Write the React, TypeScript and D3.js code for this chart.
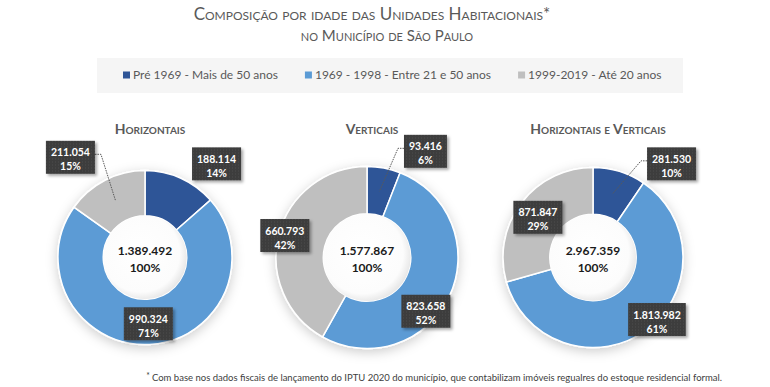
import React, { useRef, useEffect } from "react";
import * as d3 from "d3";

const categories = [
  "Pré 1969 - Mais de 50 anos",
  "1969 - 1998 - Entre 21 e 50 anos",
  "1999-2019 - Até 20 anos",
];
const colors = ["#2f5597", "#5b9bd5", "#bfbfbf"];
const chartTitles = ["Horizontais", "Verticais", "Horizontais e Verticais"];
const horizontais = [188114, 990324, 211054];
const verticais = [93416, 823658, 660793];
const horizontaisVerticais = [281530, 1813982, 871847];
const pctHorizontais = [14, 71, 15];
const pctVerticais = [6, 52, 42];
const pctHorizontaisVerticais = [10, 61, 29];
const title = "Composição por idade das Unidades Habitacionais*";
const subtitle = "no Município de São Paulo";
const footnote =
  "Com base nos dados fiscais de lançamento do IPTU 2020 do município, que contabilizam imóveis regualres do estoque residencial formal.";

// layout only
const donuts = [
  { values: horizontais, pct: pctHorizontais, cx: 145, r: 87, nudge: [[45, -34], [0, 3], [-45, -42]], leader: [false, false, true] },
  { values: verticais, pct: pctVerticais, cx: 367, r: 91, nudge: [[46, -39], [-2, 26], [-17, -4]], leader: [true, false, false] },
  { values: horizontaisVerticais, pct: pctHorizontaisVerticais, cx: 593, r: 90, nudge: [[59, -29], [25, 9], [-2, 1]], leader: [true, false, false] },
];

const ptBR = d3.formatLocale({ decimal: ",", thousands: ".", grouping: [3], currency: ["R$", ""] });
const fmt = ptBR.format(",d");
const FONT = "Lato, 'Open Sans', sans-serif";

const App = () => {
  const ref = useRef<SVGSVGElement>(null);

  useEffect(() => {
    const svg = d3.select(ref.current);
    svg.selectAll("*").remove();

    const defs = svg.append("defs");
    const sh = defs.append("filter").attr("id", "donutShadow").attr("x", "-30%").attr("y", "-30%").attr("width", "160%").attr("height", "160%");
    sh.append("feDropShadow").attr("dx", 0).attr("dy", 3).attr("stdDeviation", 6).attr("flood-color", "#000").attr("flood-opacity", 0.2);
    const bs = defs.append("filter").attr("id", "boxShadow").attr("x", "-20%").attr("y", "-20%").attr("width", "150%").attr("height", "150%");
    bs.append("feDropShadow").attr("dx", 2).attr("dy", 2).attr("stdDeviation", 1.5).attr("flood-color", "#000").attr("flood-opacity", 0.35);
    const hole = defs.append("radialGradient").attr("id", "hole").attr("cx", "45%").attr("cy", "45%").attr("r", "58%");
    hole.append("stop").attr("offset", "0%").attr("stop-color", "#ffffff");
    hole.append("stop").attr("offset", "80%").attr("stop-color", "#fcfcfc");
    hole.append("stop").attr("offset", "100%").attr("stop-color", "#e4e4e4");
    const pat = defs.append("pattern").attr("id", "boxTex").attr("width", 3).attr("height", 3).attr("patternUnits", "userSpaceOnUse");
    pat.append("rect").attr("width", 3).attr("height", 3).attr("fill", "#3d3d3d");
    pat.append("rect").attr("width", 1).attr("height", 1).attr("fill", "#4d4d4d");

    svg.append("rect").attr("width", 770).attr("height", 387).attr("fill", "#fff");

    // titles
    svg.append("text").attr("x", 372).attr("y", 20).attr("text-anchor", "middle")
      .attr("font-family", FONT).attr("font-size", 17).attr("fill", "#595959")
      .style("font-variant", "small-caps").text(title);
    svg.append("text").attr("x", 387).attr("y", 41).attr("text-anchor", "middle")
      .attr("font-family", FONT).attr("font-size", 15).attr("fill", "#595959")
      .style("font-variant", "small-caps").text(subtitle);

    // legend
    svg.append("rect").attr("x", 97).attr("y", 58).attr("width", 586).attr("height", 35).attr("fill", "#f5f5f5");
    const legend = svg.append("g").attr("transform", "translate(123,75)");
    let lx = 0;
    categories.forEach((c, i) => {
      const g = legend.append("g").attr("transform", `translate(${lx},0)`);
      g.append("rect").attr("x", 0).attr("y", -3.5).attr("width", 7).attr("height", 7).attr("fill", colors[i]);
      const t = g.append("text").attr("x", 10).attr("y", 4.2).attr("font-family", FONT).attr("font-size", 12)
        .attr("fill", "#595959").text(c);
      const w = (t.node() as SVGTextElement).getComputedTextLength();
      lx += 10 + w + 27;
    });

    // donuts
    const pie = d3.pie<number>().sort(null).value((d) => d);
    const cy = 257.5;

    donuts.forEach((dn, k) => {
      const g = svg.append("g").attr("transform", `translate(${dn.cx},${cy})`);
      const inner = dn.r * 0.48;
      const arc = d3.arc<d3.PieArcDatum<number>>().innerRadius(inner).outerRadius(dn.r);
      const arcs = pie(dn.values);
      const total = d3.sum(dn.values);

      svg.append("text").attr("x", dn.cx + 5).attr("y", 134).attr("text-anchor", "middle")
        .attr("font-family", FONT).attr("font-weight", 700).attr("font-size", 14).attr("fill", "#595959")
        .style("font-variant", "small-caps").text(chartTitles[k]);

      const ring = g.append("g").attr("filter", "url(#donutShadow)");
      ring.selectAll("path").data(arcs).enter().append("path")
        .attr("d", arc).attr("fill", (d, i) => colors[i])
        .attr("stroke", "#fff").attr("stroke-width", 1.5);

      g.append("circle").attr("r", inner).attr("fill", "url(#hole)");

      const ct = g.append("text").attr("text-anchor", "middle").attr("font-family", FONT)
        .attr("font-weight", 700).attr("font-size", 12).attr("fill", "#1a1a1a");
      ct.append("tspan").attr("x", 0).attr("y", -3).text(fmt(total));
      ct.append("tspan").attr("x", 0).attr("y", 14).text("100%");

      const leaders = g.append("g");
      arcs.forEach((a, i) => {
        const [ax, ay] = arc.centroid(a);
        const bx = ax + dn.nudge[i][0];
        const by = ay + dn.nudge[i][1];
        const lg = g.append("g");
        const box = lg.append("rect").attr("fill", "url(#boxTex)").attr("filter", "url(#boxShadow)");
        const t = lg.append("text").attr("text-anchor", "middle").attr("font-family", FONT)
          .attr("font-weight", 700).attr("font-size", 10.5).attr("fill", "#fff");
        t.append("tspan").attr("x", bx).attr("y", by - 2).text(fmt(dn.values[i]));
        t.append("tspan").attr("x", bx).attr("y", by + 12).text(`${dn.pct[i]}%`);
        const w = d3.max(t.selectAll<SVGTSpanElement, unknown>("tspan").nodes(), (n) => n.getComputedTextLength()) || 40;
        const bw = w + 10;
        const bh = 33;
        box.attr("x", bx - bw / 2).attr("y", by - bh / 2 - 1).attr("width", bw).attr("height", bh);

        if (dn.leader[i]) {
          const side = bx > ax ? -1 : 1;
          const ex = bx + (side * bw) / 2;
          const ey = by - 4;
          leaders.append("path").attr("d", `M${ex},${ey}H${ex + side * 6}L${ax},${ay}`)
            .attr("fill", "none").attr("stroke", "#595959").attr("stroke-width", 1).attr("stroke-dasharray", "1.5,1");
        }
      });
    });

    // footnote
    const fn = svg.append("text").attr("x", 722).attr("y", 381).attr("text-anchor", "end")
      .attr("font-family", FONT).attr("font-size", 9.5).attr("fill", "#404040");
    fn.append("tspan").attr("dy", -2).attr("font-size", 8.5).text("* ");
    fn.append("tspan").attr("dy", 2).text(footnote);
  }, []);

  return (
    <svg ref={ref} width={770} height={387} style={{ position: "absolute", left: 0, top: 0 }} />
  );
};

export default App;
